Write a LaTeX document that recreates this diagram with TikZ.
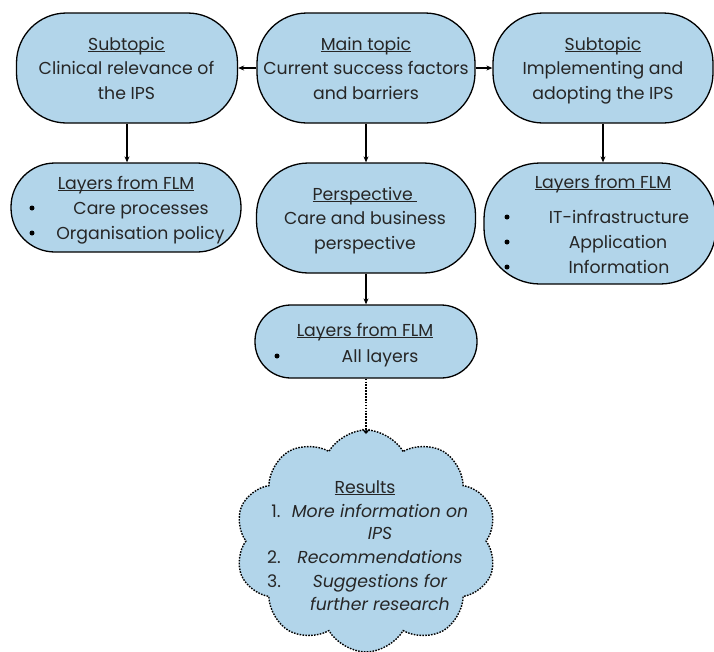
\documentclass[tikz,border=0pt]{standalone}
\usepackage{fontspec}
\setmainfont{Poppins}
\usetikzlibrary{shapes.symbols,arrows.meta}
\definecolor{boxfill}{RGB}{178,213,234}
\definecolor{ink}{RGB}{38,38,38}
% underline sitting just below the baseline, crossing descenders
\newcommand\undl[1]{\setbox0=\hbox{#1}\rlap{\rule[-2.2pt]{\wd0}{0.9pt}}\box0}
\begin{document}
\begin{tikzpicture}[x=1pt,y=-1pt,
  box/.style={draw=black, line width=1.3pt, fill=boxfill, rounded corners=#1, inner sep=0pt},
  txt/.style={anchor=base, text=ink, inner sep=0pt, font=\fontsize{17.3}{20}\selectfont},
  itx/.style={txt, font=\fontsize{17.3}{20}\selectfont\itshape},
  dot/.style={circle, fill=black, inner sep=0pt, minimum size=5pt},
  dots/.style={dash pattern=on 1.6pt off 1.3pt},
  arr/.style={line width=1.2pt, -{Stealth[length=6pt,width=5pt]}},
  darr/.style={line width=1.3pt, dots, -{Straight Barb[length=4pt,width=7pt,line width=1.2pt]}},
]
\useasboundingbox (0,0) rectangle (714,651);

% ---- top row ----
\node[box=50, minimum width=221pt, minimum height=110pt] (subL) at (127,68) {};
\node[box=50, minimum width=218pt, minimum height=110pt] (main) at (366,68) {};
\node[box=50, minimum width=220pt, minimum height=110pt] (subR) at (603,68) {};

\node[txt] (subLa) at (126.5,50) {\undl{Subtopic}};
\node[txt] (subLb) at (126.5,74) {Clinical relevance of};
\node[txt] (subLc) at (126.5,99) {the IPS};

\node[txt] (maina) at (366,50) {\undl{Main topic}};
\node[txt] (mainb) at (366,74) {Current success factors};
\node[txt] (mainc) at (366,99) {and barriers};

\node[txt] (subRa) at (603,50) {\undl{Subtopic}};
\node[txt] (subRb) at (603,74) {Implementing and};
\node[txt] (subRc) at (603,99) {adopting the IPS};

% ---- second row ----
\node[box=44, minimum width=230pt, minimum height=89pt] (layL) at (126,207.5) {};
\node[box=52, minimum width=219pt, minimum height=110pt] (persp) at (366,218) {};
\node[box=56, minimum width=232pt, minimum height=121pt] (layR) at (600,223.5) {};

\node[txt] (layLa) at (126,189) {\undl{Layers from FLM}};
\node[dot] (layLd1) at (32,208) {};
\node[txt] (layLb) at (141,214) {Care processes};
\node[dot] (layLd2) at (32,233) {};
\node[txt] (layLc) at (140.5,239) {Organisation policy};

\node[txt] (perspa) at (365,200) {\undl{Perspective\ }};
\node[txt] (perspb) at (365,224) {Care and business};
\node[txt] (perspc) at (365,249) {perspective};

\node[txt] (layRa) at (603,188) {\undl{Layers from FLM}};
\node[dot] (layRd1) at (507,217) {};
\node[txt] (layRb) at (619,223) {IT-infrastructure};
\node[dot] (layRd2) at (507,242) {};
\node[txt] (layRc) at (618,248) {Application};
\node[dot] (layRd3) at (507,267) {};
\node[txt] (layRd) at (619,273) {Information};

% ---- third row ----
\node[box=36, minimum width=222pt, minimum height=73pt] (layA) at (366,341.5) {};
\node[txt] (layAa) at (365,336) {\undl{Layers from FLM}};
\node[dot] (layAd) at (277,356) {};
\node[txt] (layAb) at (380,362) {All layers};

% ---- results cloud ----
\node[cloud, cloud puffs=10, cloud puff arc=120, aspect=1.18,
      draw=black, line width=1.4pt, dots, fill=boxfill,
      minimum width=262pt, minimum height=222pt, inner sep=0pt] (res) at (366,541) {};
\coordinate (resTop) at (366,434);
\node[txt] (resa) at (365,493) {\undl{Results}};
\node[txt] (resn1) at (276,517) {1.};
\node[itx] (resb) at (380,517) {More information on};
\node[itx] (resc) at (380,539) {IPS};
\node[txt] (resn2) at (274,563) {2.};
\node[itx] (resd) at (380,563) {Recommendations};
\node[txt] (resn3) at (274,587) {3.};
\node[itx] (rese) at (380,587) {Suggestions for};
\node[itx] (resf) at (380,610) {further research};

% ---- connectors ----
\draw[arr] (main.west) -- (subL.east);
\draw[arr] (main.east) -- (subR.west);
\draw[arr] (subL.south) -- (subL.south |- layL.north);
\draw[arr] (main.south) -- (persp.north -| main.south);
\draw[arr] (subR.south) -- (subR.south |- layR.north);
\draw[arr] (persp.south) -- (layA.north -| persp.south);
\draw[darr] (layA.south) -- (resTop);
\end{tikzpicture}
\end{document}
